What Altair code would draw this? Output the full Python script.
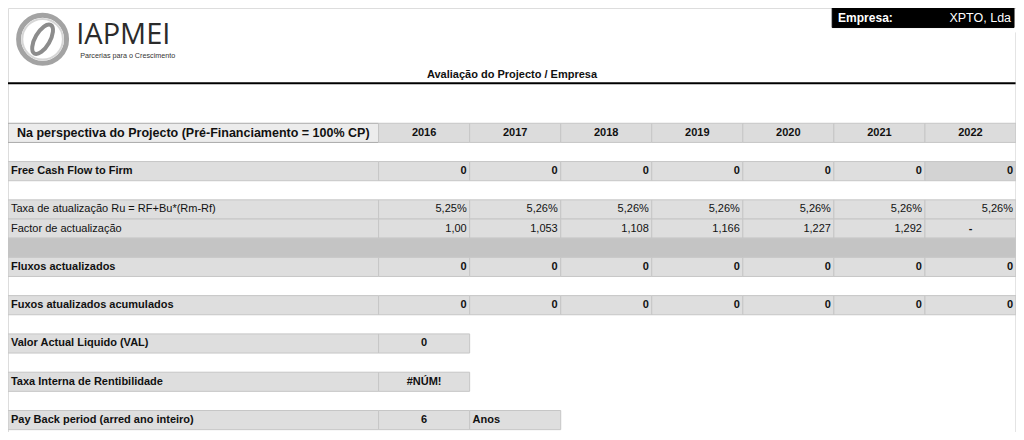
import altair as alt
import pandas as pd

# ---------------- data ----------------
company_key = "Empresa:"
company_name = "XPTO, Lda"
brand = "IAPMEI"
brand_tagline = "Parcerias para o Crescimento"
title = "Avaliação do Projecto / Empresa"
header_label = "Na perspectiva do Projecto (Pré-Financiamento = 100% CP)"
years = ["2016", "2017", "2018", "2019", "2020", "2021", "2022"]

fcf_label = "Free Cash Flow to Firm"
fcf_values = ["0", "0", "0", "0", "0", "0", "0"]

taxa_label = "Taxa de atualização Ru = RF+Bu*(Rm-Rf)"
taxa_values = ["5,25%", "5,26%", "5,26%", "5,26%", "5,26%", "5,26%", "5,26%"]

factor_label = "Factor de actualização"
factor_values = ["1,00", "1,053", "1,108", "1,166", "1,227", "1,292", "-"]

fluxos_label = "Fluxos actualizados"
fluxos_values = ["0", "0", "0", "0", "0", "0", "0"]

acum_label = "Fuxos atualizados acumulados"
acum_values = ["0", "0", "0", "0", "0", "0", "0"]

val_label = "Valor Actual Liquido (VAL)"
val_value = "0"
tir_label = "Taxa Interna de Rentibilidade"
tir_value = "#NÚM!"
payback_label = "Pay Back period (arred ano inteiro)"
payback_value = "6"
payback_unit = "Anos"

# ---------------- layout (sheet grid) ----------------
X0, X1 = 2, 377
NCOL = 7
COL_W = (1022 - X1) / NCOL
TOP, RH = 121, 19.6
FONT = "Liberation Sans"

CELL = "#dedede"
BORDER = "#c6c6c6"


def cx(i):
    return X1 + i * COL_W


def ry(r):
    return TOP + r * RH


rects, texts = [], []


def cell(x0, x1, r, fill=CELL, stroke=BORDER):
    rects.append(dict(x=x0, x2=x1, y=ry(r), y2=ry(r + 1), fill=fill, stroke=stroke))


def txt(x, r, t, style):
    texts.append(dict(x=x, y=ry(r) + RH / 2, text=t, style=style))


# header row
cell(X0, X1, 0, fill="#ececec", stroke="#a9a9a9")
txt((X0 + X1) / 2, 0, header_label, "head")
for i, yv in enumerate(years):
    cell(cx(i), cx(i + 1), 0, fill="#dcdcdc")
    txt(cx(i) + COL_W / 2, 0, yv, "boldc")


def year_row(r, label, values, bold, last_fill=CELL):
    cell(X0, X1, r)
    txt(X0 + 3, r, label, "boldl" if bold else "norml")
    for i, v in enumerate(values):
        cell(cx(i), cx(i + 1), r, fill=last_fill if i == NCOL - 1 else CELL)
        if v == "-":
            txt(cx(i) + COL_W / 2, r, v, "normc")
        else:
            txt(cx(i + 1) - 3, r, v, "boldr" if bold else "normr")


year_row(2, fcf_label, fcf_values, True, last_fill="#d3d3d3")
year_row(4, taxa_label, taxa_values, False)
year_row(5, factor_label, factor_values, False)
rects.append(dict(x=X0, x2=cx(NCOL), y=ry(6), y2=ry(7), fill="#c4c4c4", stroke="#c4c4c4"))
year_row(7, fluxos_label, fluxos_values, True)
year_row(9, acum_label, acum_values, True)


def summary_row(r, label, value):
    cell(X0, X1, r)
    txt(X0 + 3, r, label, "boldl")
    cell(cx(0), cx(1), r)
    txt(cx(0) + COL_W / 2, r, value, "boldc")


summary_row(11, val_label, val_value)
summary_row(13, tir_label, tir_value)
summary_row(15, payback_label, payback_value)
cell(cx(1), cx(2), 15)
txt(cx(1) + 3, 15, payback_unit, "boldl")

# top banner
rects.append(dict(x=836, x2=1020, y=3, y2=23, fill="#000000", stroke="#000000"))

rect_df = pd.DataFrame(rects)
text_df = pd.DataFrame(texts)

xs = alt.Scale(domain=[2, 1022], nice=False, zero=False)
ys = alt.Scale(domain=[3, 437], nice=False, zero=False, reverse=True)


def X(f="x"):
    return alt.X(f"{f}:Q", scale=xs, axis=None)


def Y(f="y"):
    return alt.Y(f"{f}:Q", scale=ys, axis=None)


rect_layer = alt.Chart(rect_df).mark_rect(strokeWidth=1).encode(
    x=X(), x2="x2:Q", y=Y(), y2="y2:Q",
    fill=alt.Fill("fill:N", scale=None),
    stroke=alt.Stroke("stroke:N", scale=None),
)

styles = {
    "head": dict(align="center", fontWeight="bold", fontSize=12.5),
    "boldc": dict(align="center", fontWeight="bold", fontSize=11),
    "boldl": dict(align="left", fontWeight="bold", fontSize=11),
    "boldr": dict(align="right", fontWeight="bold", fontSize=11),
    "norml": dict(align="left", fontWeight="normal", fontSize=11),
    "normr": dict(align="right", fontWeight="normal", fontSize=11),
    "normc": dict(align="center", fontWeight="bold", fontSize=11),
}

text_layers = []
for name, st in styles.items():
    sub = text_df[text_df["style"] == name]
    if len(sub) == 0:
        continue
    text_layers.append(
        alt.Chart(sub).mark_text(baseline="middle", font=FONT, color="#111111", **st)
        .encode(x=X(), y=Y(), text="text:N")
    )

# decorative texts: title, banner, logo
deco = pd.DataFrame([
    dict(x=512, y=72, text=title, k="title"),
    dict(x=842, y=13.5, text=company_key, k="ekey"),
    dict(x=1017, y=13.5, text=company_name, k="eval"),
    dict(x=71, y=40, text=brand, k="brand"),
    dict(x=75, y=52, text=brand_tagline, k="tag"),
])


def deco_layer(k, **kw):
    kw.setdefault("font", FONT)
    return alt.Chart(deco[deco["k"] == k]).mark_text(**kw).encode(
        x=X(), y=Y(), text="text:N")


deco_layers = [
    deco_layer("title", align="center", baseline="middle", fontWeight="bold", fontSize=11, color="#111"),
    deco_layer("ekey", align="left", baseline="middle", fontWeight="bold", fontSize=12, color="white"),
    deco_layer("eval", align="right", baseline="middle", fontSize=12.5, color="white"),
    deco_layer("brand", align="left", baseline="alphabetic", fontSize=29, color="#2b2b2b", font="Open Sans", fontWeight=400),
    deco_layer("tag", align="left", baseline="middle", fontSize=7.2, color="#333333"),
]

# rules: thick line under title, light vertical border at right
rules = pd.DataFrame([
    dict(x=0, x2=1024, y=80, y2=80, c="#000000", w=2),
    dict(x=1022, x2=1022, y=28, y2=437, c="#c8c8c8", w=1),
])
rule_layers = [
    alt.Chart(rules.iloc[[i]]).mark_rule(color=rules.c[i], strokeWidth=float(rules.w[i])).encode(
        x=X(), x2="x2:Q", y=Y(), y2="y2:Q")
    for i in range(len(rules))
]

# logo emblem
logo = pd.DataFrame([dict(x=37, y=35)])
ring = alt.Chart(logo).mark_point(
    shape="circle", size=2300, filled=False, stroke="#a3a3a3", strokeWidth=5, opacity=1
).encode(x=X(), y=Y())
ring_inner = alt.Chart(logo).mark_point(
    shape="circle", size=1650, filled=False, stroke="#d6d6d6", strokeWidth=2, opacity=1
).encode(x=X(), y=Y())
ellipse = alt.Chart(logo).mark_point(
    shape="M -0.38 0 A 0.38 0.85 0 1 0 0.38 0 A 0.38 0.85 0 1 0 -0.38 0 Z",
    size=1500, filled=False, stroke="#8c8c8c", strokeWidth=4, angle=30, opacity=1
).encode(x=X(), y=Y())

chart = alt.layer(
    rect_layer, *rule_layers, ring, ring_inner, ellipse, *deco_layers, *text_layers
).properties(
    width=1008, height=424, padding=0, autosize=alt.AutoSizeParams(type="none")
).configure_view(strokeWidth=0).configure(background="white")

chart.save("out.html", embed_options={"renderer": "svg", "actions": False})
